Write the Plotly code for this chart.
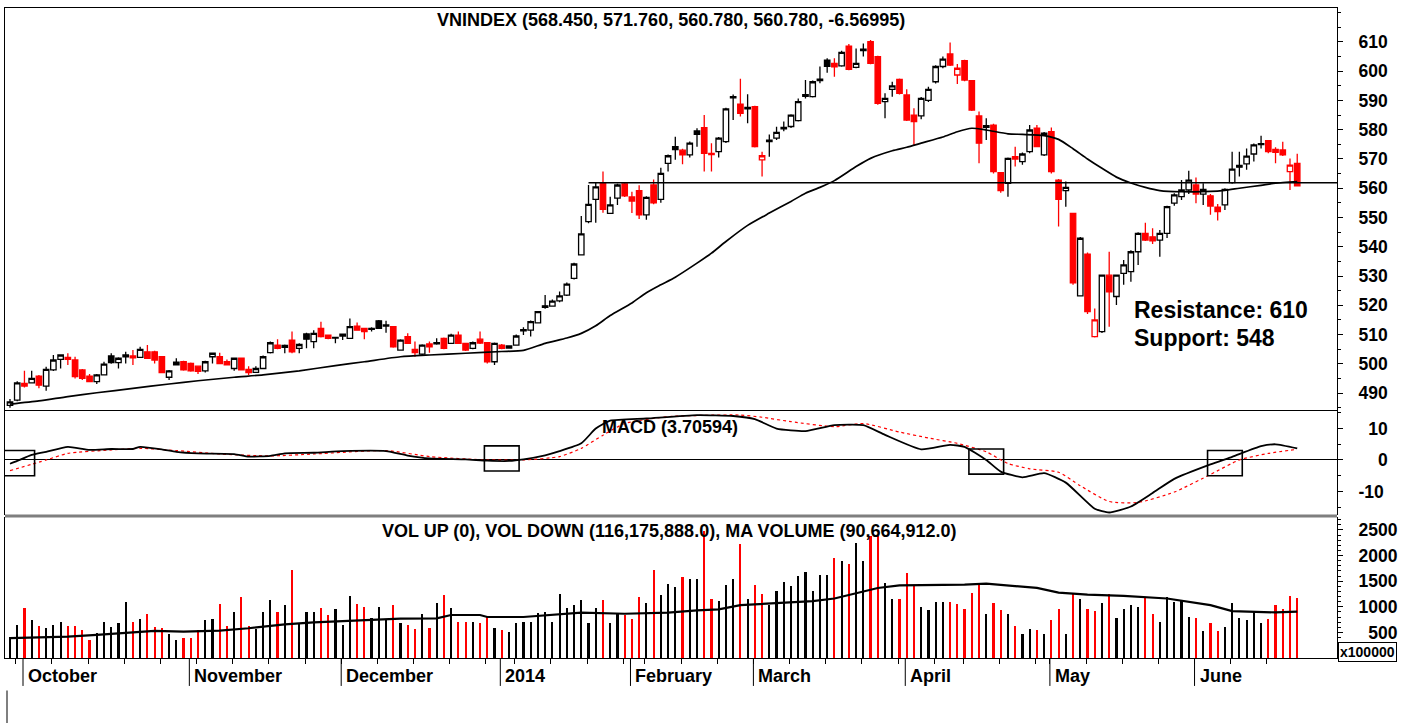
import pandas as pd
import plotly.graph_objects as go

# ---------------- DATA ----------------
opens = [485.8,487.6,493.3,493.5,495.8,492.4,497.9,501.5,502.2,501.3,497.9,495.8,493.9,496.2,502.7,500.4,503.0,502.7,502.2,504.1,
         504.1,502.4,495.4,500.6,500.7,500.1,499.2,497.6,502.4,502.4,500.7,498.4,501.9,498.1,497.1,498.4,503.8,506.4,506.3,508.1,
         505.3,510.2,507.6,512.1,509.8,509.0,510.1,508.7,512.9,512.1,512.1,514.7,513.3,512.7,504.7,509.3,504.9,503.3,506.8,507.2,
         508.7,507.0,509.8,507.0,505.3,508.4,507.2,500.7,506.4,506.1,506.4,511.7,511.5,514.0,519.8,519.7,521.5,523.5,529.2,537.2,
         548.6,556.2,561.9,551.4,556.6,561.5,557.0,559.2,550.9,561.1,556.2,568.5,574.2,573.0,571.4,579.6,580.7,571.9,572.5,575.9,
         591.3,588.7,587.6,587.9,569.7,576.4,577.1,580.8,581.1,583.1,592.0,591.3,597.3,603.8,602.7,601.8,608.6,601.3,607.5,610.1,
         605.0,589.6,593.8,597.2,591.9,585.0,584.7,590.0,596.4,601.6,605.9,598.7,603.6,596.8,584.7,581.4,581.6,565.3,561.7,570.8,
         569.1,572.5,580.5,571.4,579.3,562.8,559.2,551.4,523.2,537.5,509.3,511.0,530.3,523.0,530.9,531.5,538.3,544.6,543.4,542.3,
         544.6,554.9,557.1,559.4,561.1,558.0,557.4,553.5,554.3,561.9,567.8,568.3,571.7,575.2,576.3,573.3,573.1,565.7,568.45]
highs = [488.0,494.0,497.6,497.6,496.2,499.0,503.0,503.3,503.6,502.4,498.2,496.5,496.5,500.7,503.6,502.2,504.1,504.7,505.8,506.4,
         504.5,502.6,497.9,501.9,501.0,500.4,499.4,501.0,503.8,503.8,501.5,502.1,502.1,499.2,499.2,502.8,507.6,508.4,506.6,511.0,
         507.0,510.6,511.5,514.4,510.0,509.2,510.3,515.5,514.1,512.3,512.5,515.0,514.7,512.9,508.4,510.4,507.6,506.7,507.6,508.7,
         509.0,510.3,511.0,507.2,507.6,511.0,507.4,507.3,506.8,506.3,510.0,512.5,514.8,518.0,523.5,522.0,524.7,527.8,534.5,550.5,
         561.1,561.8,565.7,557.1,561.5,561.8,558.8,561.0,557.3,563.0,567.0,571.5,577.6,573.5,576.0,580.5,585.0,575.4,577.5,587.5,
         592.0,597.4,592.1,588.2,572.5,578.4,581.0,582.8,585.3,590.7,597.0,596.8,601.6,604.4,604.4,607.0,609.3,607.8,609.5,610.7,
         605.3,592.5,596.4,597.5,593.8,587.3,591.2,594.7,602.0,605.0,609.8,602.5,603.9,597.0,586.2,583.9,582.0,565.5,570.5,574.2,
         572.2,581.6,581.6,579.2,580.8,563.2,562.3,551.6,543.3,538.0,518.9,530.5,538.3,530.5,535.5,538.8,545.0,548.2,546.3,545.7,
         554.0,558.3,562.8,566.0,563.7,561.7,558.0,554.6,560.0,572.5,572.5,573.6,575.3,577.9,576.5,574.0,575.9,570.2,571.76]
lows = [485.0,487.2,491.9,493.3,491.6,490.8,497.5,498.4,499.6,495.0,494.5,493.7,493.1,496.0,500.0,498.4,500.1,499.6,502.0,501.7,
        500.1,496.8,494.5,499.4,497.6,497.3,496.5,497.0,500.1,500.0,499.4,497.6,497.7,496.2,496.9,498.2,503.5,505.0,503.6,503.6,
        503.6,505.3,505.3,509.0,508.4,507.0,508.1,508.5,511.3,508.4,511.0,511.9,510.6,505.5,504.5,506.8,502.4,503.0,503.8,506.5,
        505.0,506.8,506.8,504.4,505.0,506.8,500.1,499.6,505.0,505.2,506.2,509.8,509.3,513.8,518.8,519.5,521.0,523.2,528.8,537.0,
        548.0,548.2,551.6,551.2,554.3,557.0,551.5,549.5,549.2,554.5,555.0,565.7,569.7,568.2,570.5,574.2,565.7,565.7,570.5,575.5,
        583.3,584.5,582.2,573.9,564.0,570.8,576.5,579.5,580.6,582.8,590.7,591.0,595.9,599.5,598.1,601.5,600.3,601.0,605.0,602.4,
        588.5,583.9,591.3,592.0,583.0,574.8,583.6,589.5,595.8,601.0,601.8,595.6,596.6,586.4,568.5,576.5,565.0,558.5,557.1,567.4,
        568.0,572.0,574.0,571.0,565.0,546.9,553.7,527.0,523.0,517.0,509.0,510.5,512.7,520.1,527.0,528.0,533.8,542.0,540.9,536.6,
        543.0,554.0,556.0,558.0,554.9,554.3,550.9,549.0,552.6,561.5,564.0,566.3,569.1,573.6,572.0,568.5,571.0,559.4,560.78]
closes = [487.0,493.5,492.4,495.0,492.7,498.1,501.3,503.0,501.5,495.6,495.0,493.9,496.2,499.9,500.4,501.9,502.4,502.0,504.9,501.9,
          501.3,497.0,497.6,499.6,497.9,497.6,497.4,500.7,503.6,500.1,499.6,501.9,497.9,497.0,498.4,502.4,507.2,505.3,505.6,504.1,
          506.6,508.4,510.4,509.3,508.7,508.8,509.5,512.7,511.5,511.0,511.8,512.1,512.9,505.8,508.1,507.0,503.8,506.4,505.8,506.8,
          505.3,509.8,507.0,504.7,507.2,507.1,500.7,507.0,505.3,505.4,509.5,511.3,514.4,517.8,519.3,521.4,523.2,527.2,534.1,544.4,
          554.5,560.5,552.8,554.3,561.1,557.4,555.6,550.9,556.9,555.0,565.1,571.1,573.2,571.4,575.4,578.4,571.9,571.5,577.1,587.1,
          590.9,585.6,587.1,574.2,571.1,575.9,579.1,580.3,585.0,589.6,591.4,596.4,596.8,601.7,601.5,606.4,600.6,602.7,607.0,602.7,
          589.0,590.7,595.0,592.4,583.3,582.8,590.7,593.8,601.6,604.1,602.1,601.0,597.0,586.7,575.4,580.8,565.7,559.2,570.2,570.0,
          571.7,579.9,574.2,578.8,565.7,556.2,560.3,527.7,542.9,517.8,515.0,530.3,524.6,530.3,533.8,538.3,544.6,542.3,542.0,544.6,
          553.7,557.7,559.4,562.8,558.0,559.6,553.9,552.0,559.6,566.5,567.2,571.0,574.8,574.9,572.5,572.3,571.4,567.9,560.78]
# volume in units of 100,000 shares
volumes = [419,645,968,742,626,581,645,697,626,626,548,355,484,697,606,677,1084,697,761,851,
           600,593,471,355,387,387,548,742,761,1045,632,890,1193,632,568,903,1129,903,1032,1709,
           677,903,890,968,839,955,645,1213,1045,987,774,987,761,1032,677,645,561,851,593,1064,
           1238,968,697,697,697,677,806,593,548,503,677,697,697,871,903,697,1258,980,1032,1129,
           677,980,1129,677,851,839,761,1193,1064,1709,1226,1451,1387,1580,1548,1548,2483,1148,1109,1432,
           1548,2225,1148,1432,1245,1032,1303,1484,1400,1593,1677,1303,1613,1613,1948,1903,1838,2245,1903,2387,
           2374,1471,1161,1161,1664,1406,987,935,1097,1097,1097,1045,948,1271,1419,858,1064,935,851,626,
           471,568,548,464,742,955,464,1277,1161,955,916,1064,1258,787,948,1032,1000,1193,851,697,
           1193,1084,1129,806,774,529,677,535,600,1064,787,742,903,677,755,1032,948,1213,1161.76]

# moving average on price
ma_idx = [0,4,8,12,17,22,26,31,35,40,45,49,54,58,63,68,71,74,77,79,81,83,86,88,90,92,95,97,99,102,105,108,110,112,114,117,119,122,124,126,
          129,131,133,135,138,140,143,145,147,149,151,153,155,157,159,162,166,168,170,173,175,178]
ma_val = [486.2,487.3,488.8,490.1,491.6,493.1,494.2,495.4,496.2,497.6,499.4,500.7,502.4,503.0,503.6,504.2,504.6,507.0,508.8,510.4,513.0,516.5,
          520.8,524.3,527.0,529.6,534.4,537.8,541.8,547.3,551.5,555.5,558.3,560.3,562.6,567.4,570.2,572.8,574.0,575.4,577.5,579.3,580.5,579.9,
          578.6,578.4,578.0,576.7,573.5,570.0,566.8,563.8,561.8,560.3,559.2,558.8,558.9,559.3,560.0,561.0,561.7,562.3]

# MACD line and signal
macd_idx = [0,1,3,5,8,11,14,17,18,21,23,26,31,33,36,38,42,46,52,55,58,63,66,69,71,74,76,79,81,83,88,95,100,103,106,110,114,118,121,126,
            130,132,135,137,140,143,146,150,152,155,158,161,166,169,173,175,178]
macd_val = [-1.2,-0.3,1.6,2.6,4.2,3.2,3.5,3.5,4.2,3.4,2.6,2.1,1.9,1.1,1.3,2.1,2.3,2.8,2.8,1.4,0.5,0.2,-0.2,-0.3,0.2,1.5,2.8,5.3,10.0,12.5,
            13.2,14.3,14.0,13.0,10.0,9.2,11.1,11.1,8.0,3.4,4.8,4.2,0.0,-3.7,-5.5,-4.2,-7.2,-15.5,-16.7,-14.8,-10.5,-6.0,-1.4,1.0,4.4,5.0,3.70594]
sig_idx = [0,5,8,14,18,23,29,36,42,52,58,66,71,76,79,82,85,91,96,101,104,108,114,118,123,127,131,135,138,141,145,148,152,156,161,166,170,174,178]
sig_val = [-3.4,0.0,2.1,3.2,3.7,3.0,1.9,1.3,1.9,3.0,1.1,0.0,0.0,1.1,3.7,7.9,11.6,13.8,14.2,14.3,13.6,12.2,10.6,11.6,8.9,7.0,5.3,2.6,-1.1,
           -2.8,-3.9,-8.2,-13.2,-13.5,-10.2,-4.6,0.0,2.1,3.4]
cross_idx = [1, 68, 135, 168]
cross_val = [-1.0, 0.5, -0.5, -1.0]

# volume moving average
vma_idx = [0,4,8,12,17,20,24,29,33,38,42,47,51,54,59,61,65,66,71,76,79,85,91,95,98,101,105,108,111,114,117,120,123,126,132,135,138,142,145,
           149,154,160,166,169,175,178]
vma_val = [387,400,419,452,503,529,516,535,581,658,697,729,761,768,774,839,839,800,800,851,884,864,884,929,948,1032,1064,1084,1109,1161,
           1258,1367,1419,1419,1432,1451,1419,1367,1277,1238,1213,1161,1032,916,890,906.6]

resistance_level = 561.9
resistance_start = 80

title_price = "VNINDEX (568.450, 571.760, 560.780, 560.780, -6.56995)"
title_macd = "MACD (3.70594)"
title_vol = "VOL UP (0), VOL DOWN (116,175,888.0), MA VOLUME (90,664,912.0)"
note_lines = ["Resistance: 610", "Support: 548"]

holidays = ["2014-01-01", "2014-01-28", "2014-01-29", "2014-01-30", "2014-01-31", "2014-02-03", "2014-02-04",
            "2014-02-05", "2014-04-09", "2014-04-30", "2014-05-01", "2014-05-02"]
dates = [d for d in pd.bdate_range("2013-09-27", "2014-06-20") if d.strftime("%Y-%m-%d") not in holidays]
n = len(closes)
dates = dates[:n]
xi = list(range(n))

price_ticks = [490, 500, 510, 520, 530, 540, 550, 560, 570, 580, 590, 600, 610]
macd_ticks = [-10, 0, 10]
macd_ticktext = ["-10", "\u2007\u20070", "\u200710"]
vol_ticks = [500, 1000, 1500, 2000, 2500]
vol_ticktext = ["\u2007500", "1000", "1500", "2000", "2500"]

# ---------------- FIGURE ----------------
FONT = "Liberation Sans, Arial, sans-serif"
X_LEFT, X_RIGHT = -0.69, 183.5

fig = go.Figure()

# candles split into 4 styles
groups = {}
for i in range(n):
    prev = closes[i - 1] if i > 0 else opens[i]
    up_day = closes[i] >= prev
    hollow = closes[i] > opens[i]
    key = (hollow, up_day)
    groups.setdefault(key, []).append(i)

style = {
    (True, True): ("black", "white"),
    (True, False): ("red", "white"),
    (False, True): ("black", "black"),
    (False, False): ("red", "red"),
}
for key, idxs in groups.items():
    lc, fc = style[key]
    sty = dict(line=dict(color=lc, width=1.3), fillcolor=fc)
    fig.add_trace(go.Candlestick(
        x=[xi[i] for i in idxs],
        open=[opens[i] for i in idxs], high=[highs[i] for i in idxs],
        low=[lows[i] for i in idxs], close=[closes[i] for i in idxs],
        increasing=sty, decreasing=sty, whiskerwidth=0,
        xaxis="x", yaxis="y", hoverinfo="skip", showlegend=False))

# moving average
fig.add_trace(go.Scatter(x=ma_idx, y=ma_val, mode="lines", line=dict(color="black", width=1.7, shape="spline", smoothing=0.6),
                         xaxis="x", yaxis="y", hoverinfo="skip"))
# horizontal line
fig.add_trace(go.Scatter(x=[resistance_start, X_RIGHT], y=[resistance_level, resistance_level], mode="lines",
                         line=dict(color="black", width=1.5), xaxis="x", yaxis="y", hoverinfo="skip"))

# MACD
fig.add_trace(go.Scatter(x=sig_idx, y=sig_val, mode="lines", line=dict(color="red", width=1.2, dash="dot", shape="spline", smoothing=0.6),
                         xaxis="x2", yaxis="y2", hoverinfo="skip"))
fig.add_trace(go.Scatter(x=macd_idx, y=macd_val, mode="lines", line=dict(color="black", width=1.8, shape="spline", smoothing=0.5),
                         xaxis="x2", yaxis="y2", hoverinfo="skip"))

# volume
vcol = []
for i in range(n):
    prev = closes[i - 1] if i > 0 else opens[i]
    vcol.append("black" if closes[i] >= prev else "red")
fig.add_trace(go.Bar(x=xi, y=volumes, width=0.3, marker=dict(color=vcol, line=dict(width=0)),
                     xaxis="x3", yaxis="y3", hoverinfo="skip"))
fig.add_trace(go.Scatter(x=vma_idx, y=vma_val, mode="lines", line=dict(color="black", width=2.2),
                         xaxis="x3", yaxis="y3", hoverinfo="skip"))

# month starts & week starts from dates
month_starts, week_starts = [], []
for i, d in enumerate(dates):
    if i == 0:
        continue
    if d.month != dates[i - 1].month:
        month_starts.append(i)
    if d.isocalendar()[1] != dates[i - 1].isocalendar()[1]:
        week_starts.append(i)

MONTHS = ["", "January", "February", "March", "April", "May", "June", "July", "August", "September",
          "October", "November", "December"]

shapes = []
annotations = []
for m in month_starts:
    d = dates[m]
    label = str(d.year) if d.month == 1 else MONTHS[d.month]
    annotations.append(dict(x=m - 0.2, xref="x3", y=-0.028, yref="paper", text=label, showarrow=False,
                            xanchor="left", yanchor="middle", xshift=3,
                            font=dict(family=FONT, size=18, color="black", weight="bold")))
    shapes.append(dict(type="line", xref="x3", yref="paper", x0=m - 0.2, x1=m - 0.2, y0=0, y1=-0.043,
                       line=dict(color="black", width=1)))

# crossover boxes
for cx, cy in zip(cross_idx, cross_val):
    shapes.append(dict(type="rect", xref="x2", yref="y2", x0=cx - 2.4, x1=cx + 2.4, y0=cy - 4.0, y1=cy + 4.0,
                       line=dict(color="black", width=1.6), fillcolor="rgba(0,0,0,0)"))

# gray separator between MACD and volume
shapes.append(dict(type="line", xref="paper", yref="paper", x0=0, x1=1, y0=0.2185, y1=0.2185,
                   line=dict(color="#7f7f7f", width=3)))
# bottom-left frame fragment
shapes.append(dict(type="line", xref="paper", yref="paper", x0=0.0015, x1=0.0015, y0=-0.05, y1=-0.1,
                   line=dict(color="#7f7f7f", width=2)))

tfont = dict(family=FONT, size=18, color="black", weight="bold")
annotations += [
    dict(x=0.5, y=0.9815, xref="paper", yref="paper", text=title_price, showarrow=False, font=tfont,
         xanchor="center", yanchor="middle"),
    dict(x=0.4995, y=0.3554, xref="paper", yref="paper", text=title_macd, showarrow=False, font=tfont,
         xanchor="center", yanchor="middle"),
    dict(x=0.4985, y=0.1954, xref="paper", yref="paper", text=title_vol, showarrow=False, font=tfont,
         xanchor="center", yanchor="middle"),
    dict(x=0.846, y=0.5354, xref="paper", yref="paper", text=note_lines[0], showarrow=False,
         font=dict(family=FONT, size=23, color="black", weight="bold"), xanchor="left", yanchor="middle"),
    dict(x=0.846, y=0.4923, xref="paper", yref="paper", text=note_lines[1], showarrow=False,
         font=dict(family=FONT, size=23, color="black", weight="bold"), xanchor="left", yanchor="middle"),
    dict(x=1.0005, y=0.0095, xref="paper", yref="paper", text="x100000", showarrow=False,
         font=dict(family=FONT, size=14, color="black", weight="bold"), xanchor="left", yanchor="middle",
         bgcolor="white", bordercolor="black", borderwidth=1, borderpad=1),
]

axfont = dict(family=FONT, size=17.5, color="black", weight="bold")
common_x = dict(range=[X_LEFT, X_RIGHT], showgrid=False, zeroline=False, fixedrange=True)
common_y = dict(side="right", showgrid=False, showline=True, mirror=True, linecolor="black", linewidth=1,
                ticks="outside", ticklen=5, tickcolor="black", tickfont=axfont, ticklabelstandoff=12, fixedrange=True)

fig.update_layout(
    width=1407, height=723,
    margin=dict(l=5, r=70, t=8, b=65),
    paper_bgcolor="white", plot_bgcolor="white",
    showlegend=False, boxgap=0.25, boxgroupgap=0, boxmode="overlay", bargap=0,
    xaxis=dict(**common_x, anchor="y", showticklabels=False, showline=True, mirror=True, linecolor="black",
               linewidth=1, ticks="", rangeslider=dict(visible=False)),
    xaxis2=dict(**common_x, anchor="y2", matches="x", showticklabels=False, showline=False, ticks=""),
    xaxis3=dict(**common_x, anchor="y3", matches="x", showticklabels=False, showline=True, linecolor="black",
                linewidth=1, tickmode="array", tickvals=[w - 0.2 for w in week_starts], ticks="outside",
                ticklen=5, tickcolor="black"),
    yaxis=dict(**common_y, domain=[0.3815, 1.0], range=[484.2, 621.6], tickmode="array", tickvals=price_ticks,
               zeroline=False, minor=dict(ticks="outside", ticklen=3, dtick=5, tick0=0, tickcolor="black")),
    yaxis2=dict(**common_y, domain=[0.2200, 0.3815], range=[-17.5, 15.9], tickmode="array", tickvals=macd_ticks,
                ticktext=macd_ticktext, zeroline=True, zerolinecolor="black", zerolinewidth=1,
                minor=dict(ticks="outside", ticklen=3, dtick=5, tick0=0, tickcolor="black")),
    yaxis3=dict(**common_y, domain=[0.0, 0.2169], range=[0, 2752], tickmode="array", tickvals=vol_ticks,
                ticktext=vol_ticktext, zeroline=False,
                minor=dict(ticks="outside", ticklen=3, dtick=100, tick0=0, tickcolor="black")),
    shapes=shapes, annotations=annotations,
)

fig.write_html("out.html", config={"displayModeBar": False, "staticPlot": True},
               post_script="document.body.style.margin='0px';document.body.style.padding='0px';")
